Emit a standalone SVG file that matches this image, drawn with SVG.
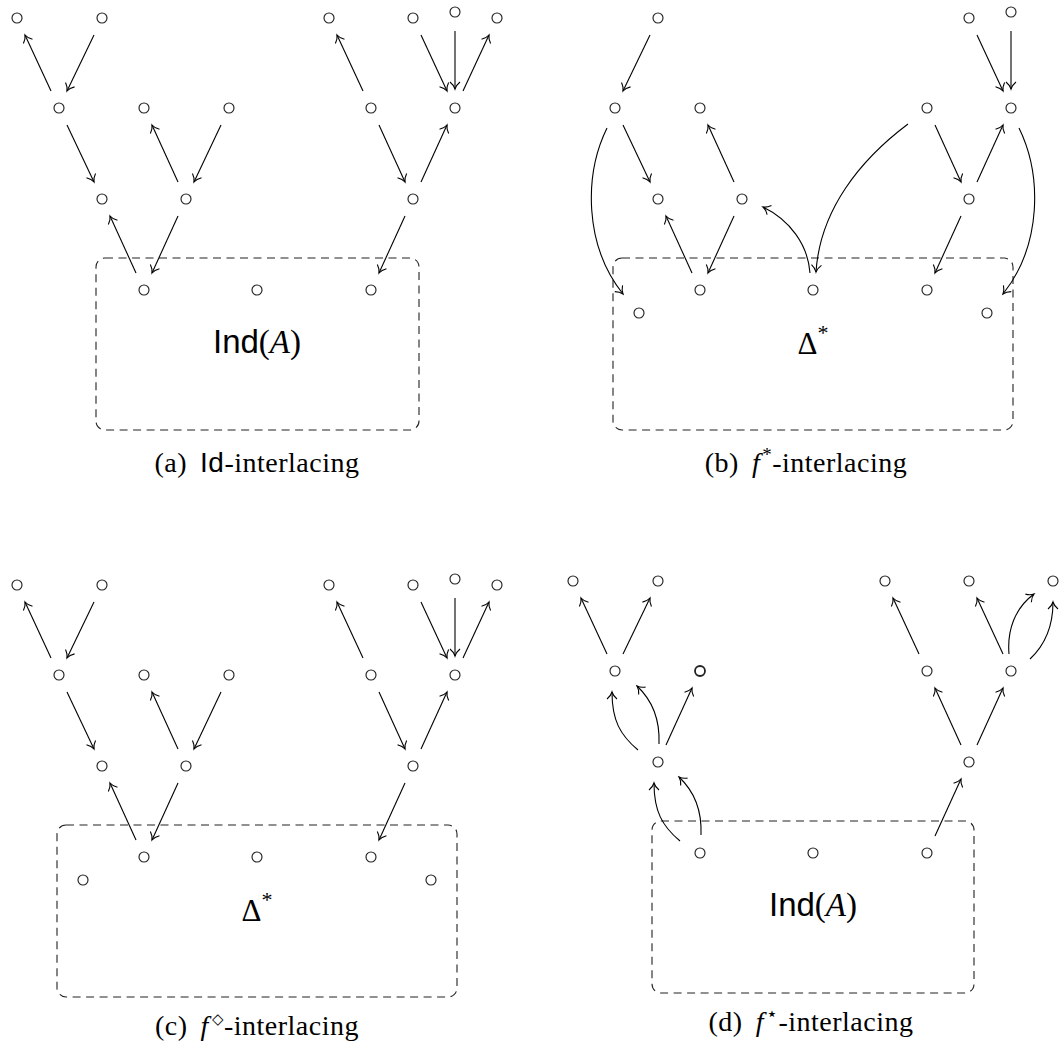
<svg xmlns="http://www.w3.org/2000/svg" width="1059" height="1050" viewBox="0 0 1059 1050">
<style>
.node circle{fill:none;stroke:#222;stroke-width:1.15}
.node.bold circle{stroke-width:1.8}
.e{fill:none;stroke:#000;stroke-width:1.1;marker-end:url(#ah)}
.box{fill:none;stroke:#222;stroke-width:1.1;stroke-dasharray:8 5.5}
.cap{font-family:"Liberation Serif",serif;font-size:28px;letter-spacing:0.5px;fill:#000}
.sf{font-family:"Liberation Sans",sans-serif}
.it{font-style:italic}
.lbl{font-family:"Liberation Serif",serif;font-size:33px;fill:#000}
.dl{font-family:"Liberation Serif",serif;font-size:31px}
</style>
<defs>
<marker id="ah" viewBox="-9 -6 11 12" markerWidth="11" markerHeight="12" refX="0" refY="0" orient="auto" markerUnits="userSpaceOnUse">
<path d="M-7,-5 C-4.5,-2 -1.6,-0.45 0,0 C-1.6,0.45 -4.5,2 -7,5" fill="none" stroke="#000" stroke-width="1.1"/>
</marker>
</defs>

<!-- Panel (a) -->
<g id="panel-a">
<rect class="box" x="96" y="258" width="323" height="172" rx="9"/>
<text class="lbl" x="257" y="353" text-anchor="middle"><tspan class="sf">Ind</tspan>(<tspan class="it">A</tspan>)</text>
<g id="a-n01" class="node"><circle cx="17" cy="18" r="5"/></g>
<g id="a-n02" class="node"><circle cx="102" cy="18" r="5"/></g>
<g id="a-n03" class="node"><circle cx="329" cy="18" r="5"/></g>
<g id="a-n04" class="node"><circle cx="413" cy="18" r="5"/></g>
<g id="a-n05" class="node"><circle cx="455" cy="12" r="5"/></g>
<g id="a-n06" class="node"><circle cx="497" cy="18" r="5"/></g>
<g id="a-n07" class="node"><circle cx="59" cy="108" r="5"/></g>
<g id="a-n08" class="node"><circle cx="144" cy="108" r="5"/></g>
<g id="a-n09" class="node"><circle cx="229" cy="108" r="5"/></g>
<g id="a-n10" class="node"><circle cx="371" cy="108" r="5"/></g>
<g id="a-n11" class="node"><circle cx="455" cy="108" r="5"/></g>
<g id="a-n12" class="node"><circle cx="102" cy="199" r="5"/></g>
<g id="a-n13" class="node"><circle cx="186" cy="199" r="5"/></g>
<g id="a-n14" class="node"><circle cx="413" cy="199" r="5"/></g>
<g id="a-n15" class="node"><circle cx="144" cy="290" r="5"/></g>
<g id="a-n16" class="node"><circle cx="257" cy="290" r="5"/></g>
<g id="a-n17" class="node"><circle cx="371" cy="290" r="5"/></g>
<g id="a-edges">
<path class="e" d="M51,91 L25,35"/>
<path class="e" d="M94,35 L67,91"/>
<path class="e" d="M67,125 L94,182"/>
<path class="e" d="M178,182 L152,125"/>
<path class="e" d="M221,125 L194,182"/>
<path class="e" d="M136,273 L110,216"/>
<path class="e" d="M178,216 L152,273"/>
<path class="e" d="M363,91 L337,35"/>
<path class="e" d="M421,35 L447,91"/>
<path class="e" d="M455,31 L455,89"/>
<path class="e" d="M463,91 L489,35"/>
<path class="e" d="M379,125 L405,182"/>
<path class="e" d="M421,182 L447,125"/>
<path class="e" d="M405,216 L379,273"/>
</g>
<text class="cap" x="257" y="472" text-anchor="middle">(a)<tspan dx="13" class="sf">Id</tspan>-interlacing</text>
</g>

<!-- Panel (b) -->
<g id="panel-b">
<rect class="box" x="613" y="258" width="400" height="172" rx="9"/>
<text x="813" y="354" text-anchor="middle"><tspan class="dl">Δ</tspan><tspan dy="-14" font-size="22" font-family="Liberation Serif, serif">*</tspan></text>
<g id="b-n01" class="node"><circle cx="658" cy="18" r="5"/></g>
<g id="b-n02" class="node"><circle cx="969" cy="18" r="5"/></g>
<g id="b-n03" class="node"><circle cx="1011" cy="12" r="5"/></g>
<g id="b-n04" class="node"><circle cx="615" cy="108" r="5"/></g>
<g id="b-n05" class="node"><circle cx="700" cy="108" r="5"/></g>
<g id="b-n06" class="node"><circle cx="927" cy="108" r="5"/></g>
<g id="b-n07" class="node"><circle cx="1011" cy="108" r="5"/></g>
<g id="b-n08" class="node"><circle cx="658" cy="199" r="5"/></g>
<g id="b-n09" class="node"><circle cx="742" cy="199" r="5"/></g>
<g id="b-n10" class="node"><circle cx="969" cy="199" r="5"/></g>
<g id="b-n11" class="node"><circle cx="700" cy="290" r="5"/></g>
<g id="b-n12" class="node"><circle cx="813" cy="290" r="5"/></g>
<g id="b-n13" class="node"><circle cx="927" cy="290" r="5"/></g>
<g id="b-n14" class="node"><circle cx="639" cy="313" r="5"/></g>
<g id="b-n15" class="node"><circle cx="987" cy="313" r="5"/></g>
<g id="b-edges">
<path class="e" d="M650,35 L623,91"/>
<path class="e" d="M623,125 L650,182"/>
<path class="e" d="M734,182 L708,125"/>
<path class="e" d="M692,273 L666,216"/>
<path class="e" d="M734,216 L708,273"/>
<path class="e" d="M977,35 L1003,91"/>
<path class="e" d="M1011,31 L1011,89"/>
<path class="e" d="M935,125 L961,182"/>
<path class="e" d="M977,182 L1003,125"/>
<path class="e" d="M961,216 L935,273"/>
<path class="e" d="M607,128 C584,175 584,245 623,294"/>
<path class="e" d="M1019,128 C1042,175 1042,245 1003,294"/>
<path class="e" d="M908,124 C860,160 820,210 816,272"/>
<path class="e" d="M810,273 C808,245 790,220 763,207"/>
</g>
<text class="cap" x="806" y="472" text-anchor="middle">(b)<tspan dx="13" class="it">f</tspan><tspan dx="2" dy="-11" font-size="19">*</tspan><tspan dy="11">-interlacing</tspan></text>
</g>

<!-- Panel (c) -->
<g id="panel-c">
<rect class="box" x="57" y="825" width="400" height="172" rx="9"/>
<text x="257" y="921" text-anchor="middle"><tspan class="dl">Δ</tspan><tspan dy="-14" font-size="22" font-family="Liberation Serif, serif">*</tspan></text>
<g id="c-n01" class="node"><circle cx="17" cy="585" r="5"/></g>
<g id="c-n02" class="node"><circle cx="102" cy="585" r="5"/></g>
<g id="c-n03" class="node"><circle cx="329" cy="585" r="5"/></g>
<g id="c-n04" class="node"><circle cx="413" cy="585" r="5"/></g>
<g id="c-n05" class="node"><circle cx="455" cy="579" r="5"/></g>
<g id="c-n06" class="node"><circle cx="497" cy="585" r="5"/></g>
<g id="c-n07" class="node"><circle cx="59" cy="675" r="5"/></g>
<g id="c-n08" class="node"><circle cx="144" cy="675" r="5"/></g>
<g id="c-n09" class="node"><circle cx="229" cy="675" r="5"/></g>
<g id="c-n10" class="node"><circle cx="371" cy="675" r="5"/></g>
<g id="c-n11" class="node"><circle cx="455" cy="675" r="5"/></g>
<g id="c-n12" class="node"><circle cx="102" cy="766" r="5"/></g>
<g id="c-n13" class="node"><circle cx="186" cy="766" r="5"/></g>
<g id="c-n14" class="node"><circle cx="413" cy="766" r="5"/></g>
<g id="c-n15" class="node"><circle cx="144" cy="857" r="5"/></g>
<g id="c-n16" class="node"><circle cx="257" cy="857" r="5"/></g>
<g id="c-n17" class="node"><circle cx="371" cy="857" r="5"/></g>
<g id="c-n18" class="node"><circle cx="83" cy="880" r="5"/></g>
<g id="c-n19" class="node"><circle cx="431" cy="880" r="5"/></g>
<g id="c-edges">
<path class="e" d="M51,658 L25,602"/>
<path class="e" d="M94,602 L67,658"/>
<path class="e" d="M67,692 L94,749"/>
<path class="e" d="M178,749 L152,692"/>
<path class="e" d="M221,692 L194,749"/>
<path class="e" d="M136,840 L110,783"/>
<path class="e" d="M178,783 L152,840"/>
<path class="e" d="M363,658 L337,602"/>
<path class="e" d="M421,602 L447,658"/>
<path class="e" d="M455,598 L455,656"/>
<path class="e" d="M463,658 L489,602"/>
<path class="e" d="M379,692 L405,749"/>
<path class="e" d="M421,749 L447,692"/>
<path class="e" d="M405,783 L379,840"/>
</g>
<text class="cap" x="257" y="1035" text-anchor="middle">(c)<tspan dx="13" class="it">f</tspan><tspan dx="3" dy="-11" font-size="15" font-family="DejaVu Sans, sans-serif">◇</tspan><tspan dy="11">-interlacing</tspan></text>
</g>

<!-- Panel (d) -->
<g id="panel-d">
<rect class="box" x="652" y="821" width="322" height="172" rx="9"/>
<text class="lbl" x="813" y="916" text-anchor="middle"><tspan class="sf">Ind</tspan>(<tspan class="it">A</tspan>)</text>
<g id="d-n01" class="node"><circle cx="573" cy="581" r="5"/></g>
<g id="d-n02" class="node"><circle cx="658" cy="581" r="5"/></g>
<g id="d-n03" class="node"><circle cx="885" cy="581" r="5"/></g>
<g id="d-n04" class="node"><circle cx="969" cy="581" r="5"/></g>
<g id="d-n05" class="node"><circle cx="1053" cy="581" r="5"/></g>
<g id="d-n06" class="node"><circle cx="615" cy="671" r="5"/></g>
<g id="d-n07" class="node bold"><circle cx="700" cy="671" r="5"/></g>
<g id="d-n08" class="node"><circle cx="927" cy="671" r="5"/></g>
<g id="d-n09" class="node"><circle cx="1011" cy="671" r="5"/></g>
<g id="d-n10" class="node"><circle cx="658" cy="762" r="5"/></g>
<g id="d-n11" class="node"><circle cx="969" cy="762" r="5"/></g>
<g id="d-n12" class="node"><circle cx="700" cy="853" r="5"/></g>
<g id="d-n13" class="node"><circle cx="813" cy="853" r="5"/></g>
<g id="d-n14" class="node"><circle cx="927" cy="853" r="5"/></g>
<g id="d-edges">
<path class="e" d="M607,654 L581,598"/>
<path class="e" d="M623,654 L650,598"/>
<path class="e" d="M666,745 L692,688"/>
<path class="e" d="M919,654 L893,598"/>
<path class="e" d="M1003,654 L977,598"/>
<path class="e" d="M961,745 L935,688"/>
<path class="e" d="M977,745 L1003,688"/>
<path class="e" d="M935,836 L961,779"/>
<path class="e" d="M638,750 C620,735 612,720 612,692"/>
<path class="e" d="M659,744 C660,720 652,700 637,686"/>
<path class="e" d="M680,841 C662,826 654,811 654,783"/>
<path class="e" d="M701,835 C702,811 694,791 679,777"/>
<path class="e" d="M1009,654 C1007,630 1015,608 1034,594"/>
<path class="e" d="M1030,659 C1045,645 1053,625 1053,602"/>
</g>
<text class="cap" x="811" y="1031" text-anchor="middle">(d)<tspan dx="13" class="it">f</tspan><tspan dx="2" dy="-11" font-size="19" font-family="DejaVu Sans, sans-serif">⋆</tspan><tspan dy="11">-interlacing</tspan></text>
</g>
</svg>
